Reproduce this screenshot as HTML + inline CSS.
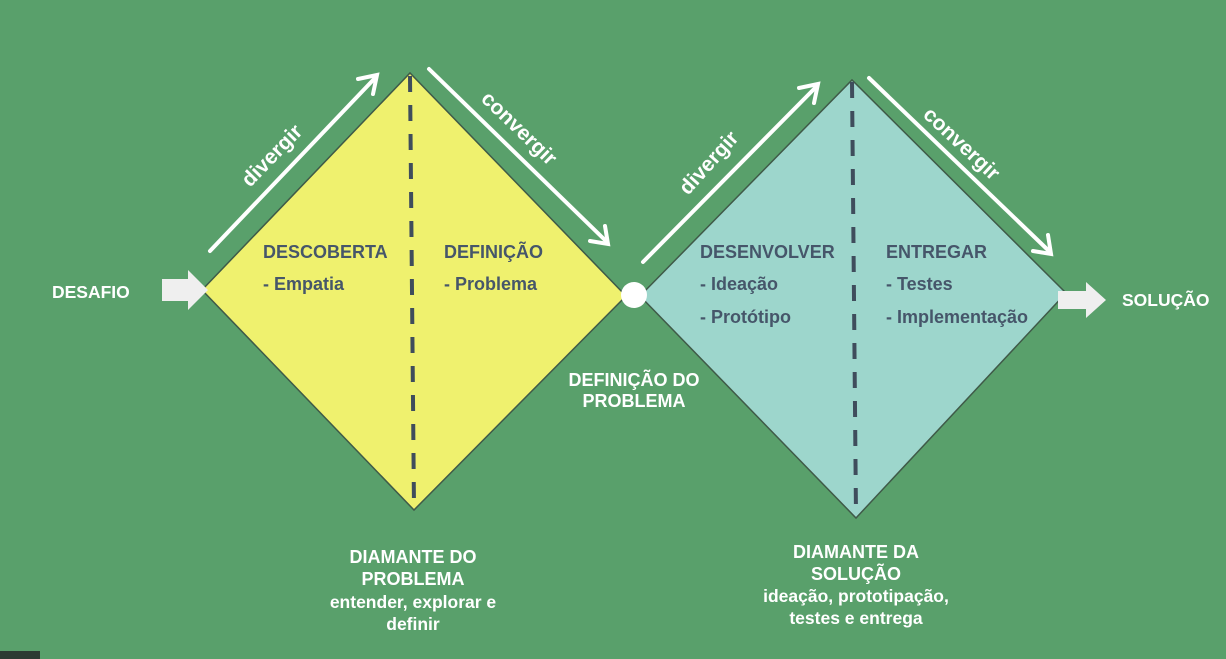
<!DOCTYPE html>
<html><head><meta charset="utf-8"><style>
html,body{margin:0;padding:0;background:#59a06b;}
svg{display:block;font-family:"Liberation Sans",Arial,sans-serif;font-weight:bold;}
</style></head><body>
<svg width="1226" height="659" viewBox="0 0 1226 659" xmlns="http://www.w3.org/2000/svg">
<rect width="1226" height="659" fill="#59a06b"/>
<rect x="0" y="651" width="40" height="8" fill="#2d3b33"/>
<polygon points="202,290 410,73 626,296 414,510" fill="#eff16e" stroke="#3f5a48" stroke-width="1.5"/>
<polygon points="640,296 852,80 1066,293 856,518" fill="#9dd6cc" stroke="#3f5a48" stroke-width="1.5"/>
<line x1="410" y1="76" x2="414" y2="508" stroke="#3f4d5c" stroke-width="4" stroke-dasharray="16,13"/>
<line x1="852" y1="82" x2="856" y2="516" stroke="#3f4d5c" stroke-width="4" stroke-dasharray="16,13"/>
<circle cx="634" cy="295" r="13" fill="#fff"/>
<g stroke="#fff" stroke-width="4" fill="none" stroke-linecap="round">
<line x1="210" y1="251" x2="376" y2="77"/><polyline points="358,79 377,75 373,94"/>
<line x1="429" y1="69" x2="607" y2="242"/><polyline points="590,241 608,244 605,226"/>
<line x1="643" y1="262" x2="817" y2="86"/><polyline points="799,88 818,84 814,103"/>
<line x1="869" y1="78" x2="1050" y2="252"/><polyline points="1033,251 1051,254 1048,235"/>
</g>
<g fill="#fff" font-size="21">
<text transform="translate(250,188) rotate(-46)">divergir</text>
<text transform="translate(480,100) rotate(44)">convergir</text>
<text transform="translate(688,196) rotate(-48)">divergir</text>
<text transform="translate(922,116) rotate(43)">convergir</text>
</g>
<polygon points="162,279 188,279 188,270 208,290 188,310 188,301 162,301" fill="#efefef"/>
<polygon points="1058,291 1086,291 1086,282 1106,300 1086,318 1086,309 1058,309" fill="#efefef"/>
<g fill="#fff" font-size="17.5">
<text x="52" y="298">DESAFIO</text>
<text x="1122" y="306">SOLUÇÃO</text>
</g>
<g fill="#fff" font-size="18">
<text x="634" y="386" text-anchor="middle">DEFINIÇÃO DO</text>
<text x="634" y="407" text-anchor="middle">PROBLEMA</text>
<text x="413" y="563" text-anchor="middle">DIAMANTE DO</text>
<text x="413" y="585" text-anchor="middle">PROBLEMA</text>
<text x="413" y="608" text-anchor="middle" font-size="17.5">entender, explorar e</text>
<text x="413" y="630" text-anchor="middle" font-size="17.5">definir</text>
<text x="856" y="558" text-anchor="middle">DIAMANTE DA</text>
<text x="856" y="580" text-anchor="middle">SOLUÇÃO</text>
<text x="856" y="602" text-anchor="middle" font-size="17.5">ideação, prototipação,</text>
<text x="856" y="624" text-anchor="middle" font-size="17.5">testes e entrega</text>
</g>
<g fill="#46566a" font-size="18">
<text x="263" y="258">DESCOBERTA</text>
<text x="263" y="290">- Empatia</text>
<text x="444" y="258">DEFINIÇÃO</text>
<text x="444" y="290">- Problema</text>
<text x="700" y="258">DESENVOLVER</text>
<text x="700" y="290">- Ideação</text>
<text x="700" y="323">- Protótipo</text>
<text x="886" y="258">ENTREGAR</text>
<text x="886" y="290">- Testes</text>
<text x="886" y="323">- Implementação</text>
</g>
</svg>
</body></html>
